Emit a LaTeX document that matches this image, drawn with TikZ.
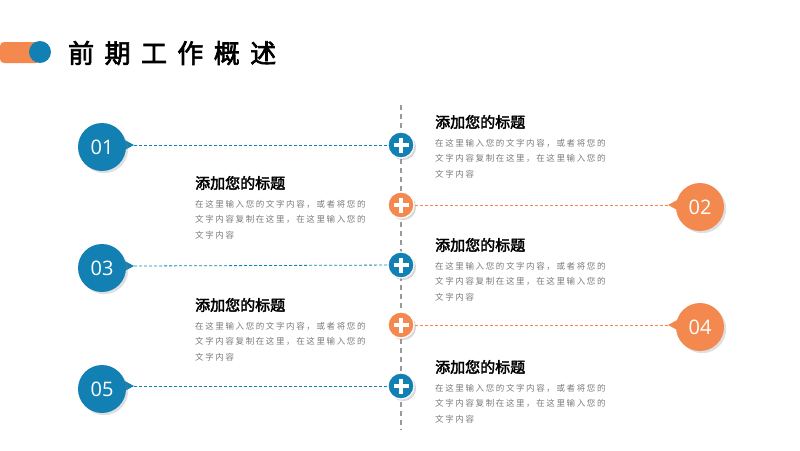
\documentclass[tikz,border=0pt]{standalone}
\usepackage{fontspec}
\setsansfont{Open Sans}
\newfontfamily\cjk[AutoFakeBold=2.5]{Noto Sans CJK SC}
\newfontfamily\cjkwide[LetterSpace=19]{Noto Sans CJK SC}
\newfontfamily\cjktitle[AutoFakeBold=2.5,LetterSpace=40]{Noto Sans CJK SC}
\usetikzlibrary{positioning,shadows}
\definecolor{pblue}{HTML}{1380B3}
\definecolor{porange}{HTML}{F4894F}
\definecolor{pgray}{HTML}{7A7A7A}

\begin{document}
\begin{tikzpicture}[
    x=1pt, y=-1pt,
    badge/.style={circle, minimum size=48pt, inner sep=0pt, text=white, font=\sffamily\fontsize{20}{20}\selectfont, drop shadow={opacity=0.25}},
    plus/.style={circle, minimum size=26pt, inner sep=0pt, draw=white, line width=1.2pt, drop shadow={opacity=0.3}},
    link/.style={densely dashed, line width=0.8pt},
    heading/.style={anchor=west, font=\cjk\bfseries\fontsize{15}{15}\selectfont, inner sep=0pt},
    body/.style={anchor=north west, align=left, text=pgray, font=\cjkwide\fontsize{8.5}{15.5}\selectfont, inner sep=0pt}
]
\useasboundingbox (0,0) rectangle (800,450);

% Header
\fill[porange, rounded corners=4pt] (0,42) rectangle (40,63);
\node[circle, fill=pblue, minimum size=22pt, inner sep=0pt] (dot) at (40,52) {};
\node[anchor=west, font=\cjktitle\bfseries\fontsize{26}{26}\selectfont, inner sep=0pt] (title) at (68,53) {前期工作概述};

% Spine
\coordinate (top) at (401,105);
\coordinate (bottom) at (401,430);
\draw[gray!80, line width=2pt, dash pattern=on 5pt off 4pt] (top) -- (bottom);

% Badges
\fill[pblue] (110,132) -- (134,145) -- (110,158) -- cycle;
\node[badge, fill=pblue] (b1) at (102,147) {01};
\fill[porange] (692,192) -- (668,205) -- (692,218) -- cycle;
\node[badge, fill=porange] (b2) at (700,207) {02};
\fill[pblue] (110,253) -- (134,266) -- (110,279) -- cycle;
\node[badge, fill=pblue] (b3) at (102,268) {03};
\fill[porange] (692,312) -- (668,325) -- (692,338) -- cycle;
\node[badge, fill=porange] (b4) at (700,327) {04};
\fill[pblue] (110,373) -- (134,386) -- (110,399) -- cycle;
\node[badge, fill=pblue] (b5) at (102,389) {05};

% Plus markers
\node[plus, fill=pblue] (p1) at (401,145) {};
\node[plus, fill=porange] (p2) at (401,205) {};
\node[plus, fill=pblue] (p3) at (401,265) {};
\node[plus, fill=porange] (p4) at (401,325) {};
\node[plus, fill=pblue] (p5) at (401,386) {};
\foreach \p in {p1,p2,p3,p4,p5}
    \draw[white, line width=3.5pt] ([xshift=-7.5pt]\p.center) -- ([xshift=7.5pt]\p.center)
        ([yshift=-7.5pt]\p.center) -- ([yshift=7.5pt]\p.center);

% Links
\draw[link, pblue] (134,145) -- (p1);
\draw[link, porange] (p2) -- (668,205);
\draw[link, pblue] (134,266) -- (p3);
\draw[link, porange] (p4) -- (668,325);
\draw[link, pblue] (134,386) -- (p5);

% Texts
\node[heading] (h1) at (435,122) {添加您的标题};
\node[body] (t1) at (435,139) {在这里输入您的文字内容，或者将您的\\文字内容复制在这里，在这里输入您的\\文字内容};
\node[heading] (h2) at (195,183) {添加您的标题};
\node[body] (t2) at (195,200) {在这里输入您的文字内容，或者将您的\\文字内容复制在这里，在这里输入您的\\文字内容};
\node[heading] (h3) at (435,245) {添加您的标题};
\node[body] (t3) at (435,262) {在这里输入您的文字内容，或者将您的\\文字内容复制在这里，在这里输入您的\\文字内容};
\node[heading] (h4) at (195,305) {添加您的标题};
\node[body] (t4) at (195,322) {在这里输入您的文字内容，或者将您的\\文字内容复制在这里，在这里输入您的\\文字内容};
\node[heading] (h5) at (435,367) {添加您的标题};
\node[body] (t5) at (435,384) {在这里输入您的文字内容，或者将您的\\文字内容复制在这里，在这里输入您的\\文字内容};

\end{tikzpicture}
\end{document}
